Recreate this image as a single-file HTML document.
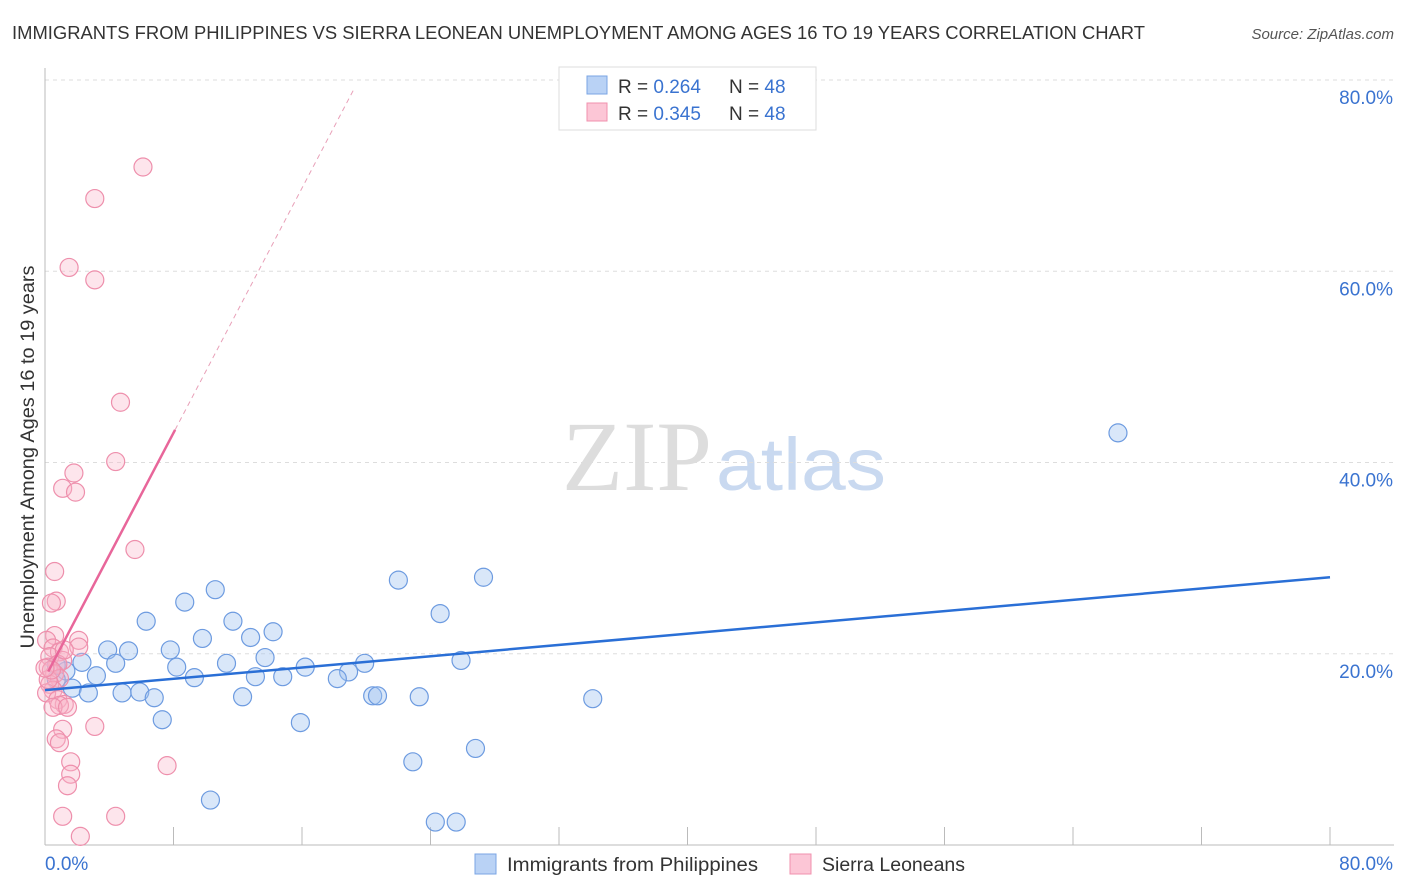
<!DOCTYPE html>
<html><head><meta charset="utf-8"><style>
body{margin:0;background:#fff;font-family:"Liberation Sans",sans-serif;}
#wrap{position:relative;width:1406px;height:892px;overflow:hidden;}
</style></head><body>
<div id="wrap">
<svg id="svg" width="1406" height="892">
<text x="12" y="39" font-size="18" fill="#333" textLength="1133" lengthAdjust="spacingAndGlyphs">IMMIGRANTS FROM PHILIPPINES VS SIERRA LEONEAN UNEMPLOYMENT AMONG AGES 16 TO 19 YEARS CORRELATION CHART</text>
<text x="1394" y="39" font-size="15" fill="#555" font-style="italic" text-anchor="end">Source: ZipAtlas.com</text>
<text x="712" y="490" font-size="100" fill="#ddd" text-anchor="end" font-family="Liberation Serif,serif">ZIP</text>
<text x="716" y="490" font-size="74" fill="#c9d9f0" textLength="170" lengthAdjust="spacingAndGlyphs">atlas</text>
<g id="grid"></g>
<g id="marks"></g>
<text transform="translate(34,457) rotate(-90)" font-size="19" fill="#333" text-anchor="middle" textLength="383" lengthAdjust="spacingAndGlyphs">Unemployment Among Ages 16 to 19 years</text>
<g>
<rect x="559" y="67" width="257" height="63" fill="#fff" stroke="#ddd"/>
<rect x="587" y="76" width="20" height="18" fill="#b9d2f5" stroke="#7aa4e4"/>
<rect x="587" y="103" width="20" height="18" fill="#fcc6d6" stroke="#f090ae"/>
<text x="618" y="93" font-size="19" fill="#333">R = <tspan fill="#3a73d0">0.264</tspan></text>
<text x="729" y="93" font-size="19" fill="#333">N = <tspan fill="#3a73d0">48</tspan></text>
<text x="618" y="120" font-size="19" fill="#333">R = <tspan fill="#3a73d0">0.345</tspan></text>
<text x="729" y="120" font-size="19" fill="#333">N = <tspan fill="#3a73d0">48</tspan></text>
</g>
<g>
<rect x="475" y="854" width="21" height="20" fill="#b9d2f5" stroke="#7aa4e4"/>
<text x="507" y="871" font-size="19" fill="#333" textLength="251" lengthAdjust="spacingAndGlyphs">Immigrants from Philippines</text>
<rect x="790" y="854" width="21" height="20" fill="#fcc6d6" stroke="#f090ae"/>
<text x="822" y="871" font-size="19" fill="#333" textLength="143" lengthAdjust="spacingAndGlyphs">Sierra Leoneans</text>
</g>
</svg>
</div>
<script>
const yTicks=[20,40,60,80];
const xTickCount=10;
const blueX=[66.8,27.3,22.0,10.6,8.7,24.6,6.3,11.7,14.2,12.8,9.8,3.9,5.2,7.8,13.7,25.9,2.3,4.4,11.3,19.9,16.2,8.2,18.9,1.3,3.2,9.3,13.1,14.8,18.2,0.7,1.7,2.7,4.8,5.9,20.4,20.7,23.3,12.3,6.8,34.1,7.3,15.9,26.8,22.9,10.3,24.3,25.6,0.7];
const blueY=[43.1,28.0,27.7,26.7,25.4,24.2,23.4,23.4,22.3,21.7,21.6,20.4,20.3,20.4,19.6,19.3,19.1,19.0,19.0,19.0,18.6,18.6,18.1,18.2,17.7,17.5,17.6,17.6,17.4,17.3,16.4,15.9,15.9,16.0,15.6,15.6,15.5,15.5,15.4,15.3,13.1,12.8,10.1,8.7,4.7,2.4,2.4,18.8];
const pinkX=[6.1,3.1,1.5,3.1,4.7,4.4,1.8,1.1,1.9,5.6,0.6,0.7,0.4,0.6,0.1,2.1,2.1,0.5,0.9,0.3,1.1,0.8,0.2,0.6,0.9,0.3,0.5,0.1,0.8,1.2,0.9,0.5,1.4,3.1,1.1,0.7,0.9,1.6,7.6,1.6,1.4,1.1,4.4,2.2,0.2,0.4,0,1.2];
const pinkY=[70.9,67.6,60.4,59.1,46.3,40.1,38.9,37.3,36.9,30.9,28.6,25.5,25.3,21.9,21.4,21.4,20.7,20.6,20.2,19.7,19.3,18.9,18.6,17.9,17.4,16.8,16.2,15.9,15.2,14.7,14.6,14.4,14.4,12.4,12.1,11.1,10.7,8.7,8.3,7.4,6.2,3.0,3.0,0.9,17.3,18.3,18.5,20.4];
const blueLine=[16.2,28.0];   // y at x=0 and x=80
const pinkLine=[17.5,3.2];    // intercept, slope
const pinkSolidEnd=8.1, pinkDashEnd=19.2;
const X=v=>45+v*(1285/80), Y=v=>845-v*(765/80);
const NS='http://www.w3.org/2000/svg';
function mk(t,a,p){const e=document.createElementNS(NS,t);for(const k in a)e.setAttribute(k,a[k]);p.appendChild(e);return e;}
const g=document.getElementById('grid'),m=document.getElementById('marks');
yTicks.forEach(t=>{
 const l=mk('line',{x1:45,x2:1394,y1:Y(t),y2:Y(t),stroke:'#ddd','stroke-dasharray':'4,4'},g);
 
 
 const tx=mk('text',{x:1393,y:Y(t)+24,'font-size':19,fill:'#3a73d0','text-anchor':'end'},g);
 tx.textContent=t.toFixed(1)+'%';
 
 
});
mk('line',{x1:45,x2:45,y1:68,y2:845,stroke:'#bbb'},g);
mk('line',{x1:45,x2:1394,y1:845,y2:845,stroke:'#bbb'},g);
for(let i=1;i<=xTickCount;i++){const l=mk('line',{x1:X(i*8),x2:X(i*8),y1:827,y2:845,stroke:'#bbb'},g);
 
 }
const x0=mk('text',{x:45,y:870,'font-size':19,fill:'#3a73d0'},g);x0.textContent='0.0%';


const x1=mk('text',{x:1393,y:870,'font-size':19,fill:'#3a73d0','text-anchor':'end'},g);x1.textContent='80.0%';


blueX.forEach((v,i)=>{const c=mk('circle',{cx:X(v),cy:Y(blueY[i]),r:9,fill:'rgba(160,195,240,0.4)',stroke:'#6d9be0','stroke-width':1.2},m);
 
 });
pinkX.forEach((v,i)=>{const c=mk('circle',{cx:X(v),cy:Y(pinkY[i]),r:9,fill:'rgba(250,180,200,0.35)',stroke:'#ee8fac','stroke-width':1.2},m);
 
 });
const bl=mk('line',{x1:X(0),y1:Y(blueLine[0]),x2:X(80),y2:Y(blueLine[1]),stroke:'#2a6fd6','stroke-width':2.5},m);


const pf=x=>pinkLine[0]+pinkLine[1]*x;
const ps=mk('line',{x1:X(0.2),y1:Y(pf(0.2)),x2:X(pinkSolidEnd),y2:Y(pf(pinkSolidEnd)),stroke:'#e8669a','stroke-width':2.5},m);


const pd=mk('line',{x1:X(pinkSolidEnd),y1:Y(pf(pinkSolidEnd)),x2:X(pinkDashEnd),y2:Y(pf(pinkDashEnd)),stroke:'#e8a0b8','stroke-width':1,'stroke-dasharray':'5,4'},m);


</script>
</body></html>
